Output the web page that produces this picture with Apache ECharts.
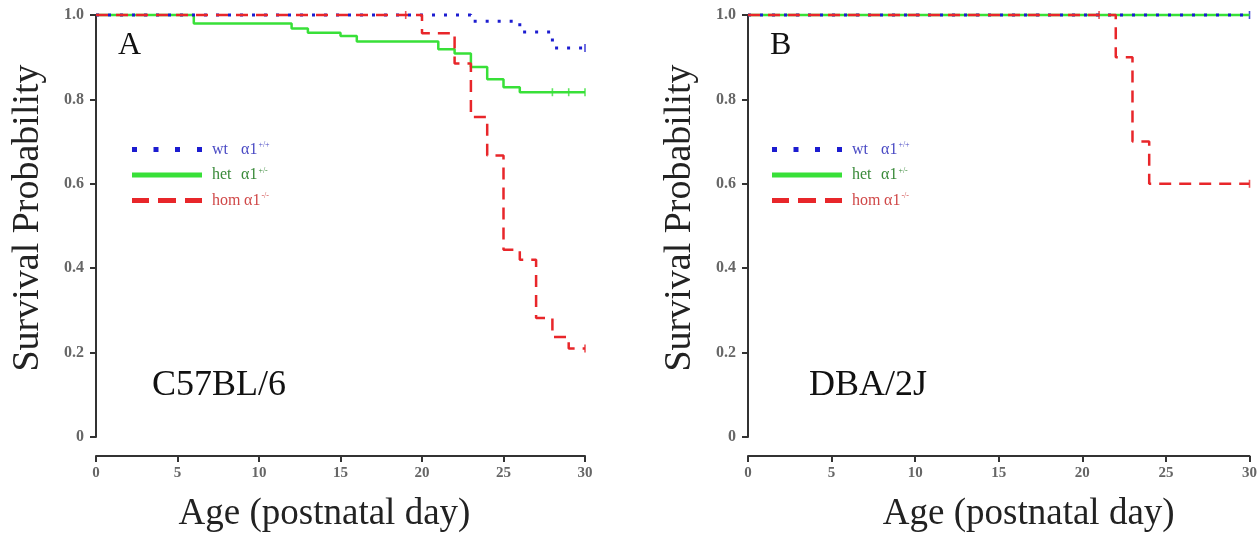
<!DOCTYPE html>
<html>
<head>
<meta charset="utf-8">
<script src="https://cdn.jsdelivr.net/npm/echarts@6/dist/echarts.min.js"></script>
<style>
html,body{margin:0;padding:0;background:#fff;}
#chart{width:1260px;height:538px;}
</style>
</head>
<body>
<div id="chart"></div>
<script>
// ---- data (Kaplan-Meier step points: [day, survival]) ----
const xTicks = [0, 5, 10, 15, 20, 25, 30];
const yTicks = [0, 0.2, 0.4, 0.6, 0.8, 1.0];

const wtA  = [[0,1],[23,0.985],[26,0.96],[28,0.922],[30,0.922]];
const hetA = [[0,1],[6,0.98],[12,0.968],[13,0.958],[15,0.95],[16,0.937],[21,0.919],[22,0.909],[23,0.877],[24,0.848],[25,0.829],[26,0.817],[30,0.817]];
const homA = [[0,1],[20,0.957],[22,0.885],[23,0.758],[24,0.667],[25,0.444],[26,0.42],[27,0.282],[28,0.237],[29,0.21],[30,0.21]];

const wtB  = [[0,1],[30,1]];
const hetB = [[0,1],[30,1]];
const homB = [[0,1],[22,0.9],[23,0.7],[24,0.6],[30,0.6]];

// censored observations (+ marks)
const wtACens  = [[30,0.922]];
const hetACens = [[28,0.817],[29,0.817],[30,0.817]];
const homACens = [[19,1],[30,0.21]];
const wtBCens  = [[30,1]];
const homBCens = [[21,1],[30,0.6]];

const panelLetters = ['A', 'B'];
const strainNames = ['C57BL/6', 'DBA/2J'];
const groupNames = ['wt', 'het', 'hom'];
const groupSup = {wt: '+/+', het: '+/-', hom: '-/-'};

// ---- styling ----
const SERIF = '"Liberation Serif","Times New Roman",serif';
const COL = {wt: '#1c1cd0', het: '#38e038', hom: '#e8262a'};
const TXT = {wt: '#4a4ac4', het: '#3a8a3a', hom: '#d04848'};
const DASH = {wt: [3, 9], het: 'solid', hom: [12, 8]};
const ICON = {
  wt: 'path://M0,0h5v5h-5z M21.5,0h5v5h-5z M43,0h5v5h-5z M65,0h5v5h-5z',
  het: 'path://M0,0h70v5h-70z',
  hom: 'path://M0,0h17v5h-17z M26,0h18v5h-18z M53,0h17v5h-17z'
};

const gridsPos = [
  {left: 96, top: 15, width: 489, height: 423},
  {left: 748, top: 15, width: 505, height: 423}
];
const xNamePad = [[0, 32, 0, 0], [0, 0, 0, 60]];

function xAxisFor(i) {
  return {
    gridIndex: i, type: 'value', min: 0, max: 30, interval: 5, offset: 19,
    axisLine: {show: true, onZero: false, lineStyle: {color: '#333', width: 2}},
    axisTick: {show: true, length: 6, lineStyle: {color: '#333', width: 2}},
    axisLabel: {fontFamily: SERIF, fontWeight: 'bold', fontSize: 15, color: '#666', margin: 10},
    splitLine: {show: false},
    name: 'Age (postnatal day)', nameLocation: 'middle', nameGap: 40,
    nameTextStyle: {fontFamily: SERIF, fontSize: 37, color: '#222', padding: xNamePad[i]}
  };
}
function yAxisFor(i) {
  return {
    gridIndex: i, type: 'value', min: 0, max: 1, interval: 0.2,
    axisLine: {show: true, onZero: false, lineStyle: {color: '#333', width: 2}},
    axisTick: {show: true, length: 6, lineStyle: {color: '#333', width: 2}},
    axisLabel: {fontFamily: SERIF, fontWeight: 'bold', fontSize: 16, color: '#666', margin: 12,
      formatter: v => v === 0 ? '0' : v.toFixed(1)},
    splitLine: {show: false},
    name: 'Survival Probability', nameLocation: 'middle', nameGap: 49,
    nameTextStyle: {fontFamily: SERIF, fontSize: 38, color: '#222', padding: [0, 0, 0, 16]}
  };
}

function km(name, data, gi) {
  return {
    name: name, type: 'line', step: 'end', data: data,
    xAxisIndex: gi, yAxisIndex: gi, symbol: 'none', clip: false,
    lineStyle: {color: COL[name], width: name === 'wt' ? 3 : 2.5, type: DASH[name]},
    itemStyle: {color: COL[name]},
    animation: false, silent: true
  };
}
function cens(name, data, gi) {
  return {
    name: name + ' censored', type: 'scatter', data: data,
    xAxisIndex: gi, yAxisIndex: gi, symbol: 'rect', symbolSize: [1.6, 8], clip: false,
    itemStyle: {color: COL[name], opacity: 0.8},
    animation: false, silent: true
  };
}

function legendFor(left) {
  return {
    left: left, top: 136, orient: 'vertical', itemWidth: 70, itemHeight: 5, itemGap: 9,
    symbolKeepAspect: false, selectedMode: false,
    data: groupNames.map(n => ({name: n, icon: ICON[n], textStyle: {color: TXT[n]}})),
    formatter: n => '{' + (n === 'hom' ? 'nl' : 'n') + '|' + n + '}{a|α1}{s|' + groupSup[n] + '}',
    textStyle: {
      fontFamily: SERIF, fontSize: 16,
      rich: {
        n: {fontFamily: SERIF, fontSize: 16, width: 29, padding: [0, 0, 0, 5]},
        nl: {fontFamily: SERIF, fontSize: 16, width: 32, padding: [0, 0, 0, 5]},
        a: {fontFamily: SERIF, fontSize: 16},
        s: {fontFamily: SERIF, fontSize: 8, padding: [0, 0, 9, 1]}
      }
    }
  };
}

const option = {
  backgroundColor: '#ffffff',
  animation: false,
  title: [
    {text: panelLetters[0], left: 113, top: 25, textStyle: {fontFamily: SERIF, fontSize: 32, fontWeight: 'normal', color: '#111'}},
    {text: strainNames[0], left: 147, top: 363, textStyle: {fontFamily: SERIF, fontSize: 36, fontWeight: 'normal', color: '#111'}},
    {text: panelLetters[1], left: 765, top: 25, textStyle: {fontFamily: SERIF, fontSize: 32, fontWeight: 'normal', color: '#111'}},
    {text: strainNames[1], left: 804, top: 363, textStyle: {fontFamily: SERIF, fontSize: 36, fontWeight: 'normal', color: '#111'}}
  ],
  legend: [legendFor(127), legendFor(767)],
  grid: gridsPos,
  xAxis: [xAxisFor(0), xAxisFor(1)],
  yAxis: [yAxisFor(0), yAxisFor(1)],
  series: [
    km('het', hetA, 0), km('wt', wtA, 0), km('hom', homA, 0),
    cens('het', hetACens, 0), cens('wt', wtACens, 0), cens('hom', homACens, 0),
    km('het', hetB, 1), km('wt', wtB, 1), km('hom', homB, 1),
    cens('wt', wtBCens, 1), cens('hom', homBCens, 1)
  ]
};

const chart = echarts.init(document.getElementById('chart'), null, {renderer: 'canvas'});
chart.setOption(option);
</script>
</body>
</html>
